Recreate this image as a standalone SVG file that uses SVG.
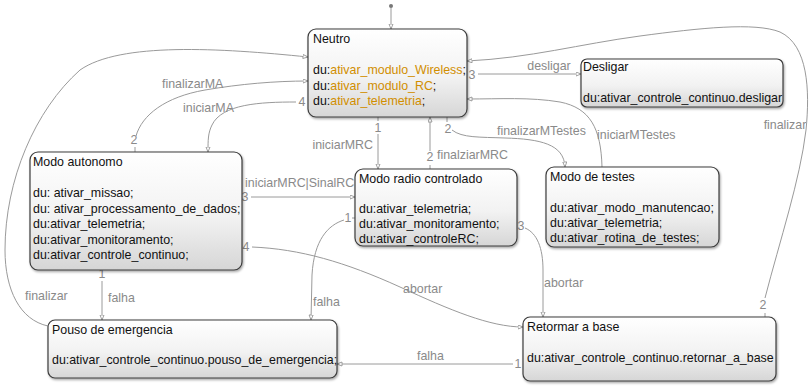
<svg xmlns="http://www.w3.org/2000/svg" width="809" height="386" viewBox="0 0 809 386">
<defs>
<linearGradient id="g" x1="0" y1="0" x2="0" y2="1">
<stop offset="0" stop-color="#ffffff"/>
<stop offset="0.55" stop-color="#f2f2f2"/>
<stop offset="1" stop-color="#d6d6d6"/>
</linearGradient>
<filter id="sh" x="-5%" y="-5%" width="112%" height="120%">
<feDropShadow dx="1" dy="1.5" stdDeviation="1.2" flood-color="#000" flood-opacity="0.35"/>
</filter>
<marker id="ar" markerUnits="userSpaceOnUse" markerWidth="7" markerHeight="6" refX="5.5" refY="2.5" orient="auto">
<path d="M0.5,0.5 L5.5,2.5 L0.5,4.5 z" fill="#fff" stroke="#8a8a8a" stroke-width="0.8"/>
</marker>
</defs>
<style>
.box{fill:url(#g);stroke:#3c3c3c;stroke-width:1.2;filter:url(#sh)}
.t{font-family:"Liberation Sans",Arial,Helvetica,sans-serif;font-size:12.4px;fill:#111}
.o{fill:#d18e00}
.c{fill:none;stroke:#9a9a9a;stroke-width:1}
.a{marker-end:url(#ar)}
.l{font-family:"Liberation Sans",Arial,Helvetica,sans-serif;font-size:12.4px;fill:#8a8a8a}
.n{font-family:"Liberation Sans",Arial,Helvetica,sans-serif;font-size:12.4px;fill:#8a8a8a;text-anchor:middle}
</style>
<rect width="809" height="386" fill="#fff"/>

<g id="connectors">
<circle cx="391" cy="6" r="2" fill="#777"/>
<path class="c a" d="M391,8 L391,29"/>

<!-- Neutro -> Desligar -->
<text class="n" x="472" y="79">3</text>
<path class="c a" d="M478,74 L581,74"/>
<text class="l" x="549" y="70" text-anchor="middle">desligar</text>

<!-- Retormar -> Neutro finalizar -->
<path class="c" d="M765,317 L765,313"/>
<text class="n" x="763" y="309">2</text>
<path class="c a" d="M765,298 C780,240 800,180 806,130 C810,90 808,45 780,32 C755,22 700,28 640,36 C580,44 530,58 467,61"/>
<text class="l" x="785" y="129" text-anchor="middle">finalizar</text>

<!-- Modo de testes -> Neutro iniciarMTestes -->
<path class="c a" d="M602,167 C601,128 590,108 560,102 C530,97 500,99 467,99"/>
<text class="l" x="597" y="139">iniciarMTestes</text>

<!-- Neutro -> Modo de testes finalizarMTestes -->
<path class="c" d="M447,117 L447,122"/>
<text class="n" x="448" y="133">2</text>
<path class="c a" d="M452,130 C462,138 480,137 505,138 C540,139 564,144 565,167"/>
<text class="l" x="497" y="135">finalizarMTestes</text>

<!-- Neutro -> MRC iniciarMRC -->
<path class="c" d="M378,117 L378,121"/>
<text class="n" x="378" y="132">1</text>
<path class="c a" d="M378,134 L378,169"/>
<text class="l" x="373" y="149" text-anchor="end">iniciarMRC</text>

<!-- MRC -> Neutro finalziarMRC -->
<path class="c" d="M430,169 L430,165"/>
<text class="n" x="430" y="161">2</text>
<path class="c a" d="M430,151 L430,117"/>
<text class="l" x="437" y="159">finalziarMRC</text>

<!-- MA -> Neutro finalizarMA -->
<path class="c" d="M135,152 L135,147"/>
<text class="n" x="134" y="144">2</text>
<path class="c a" d="M136,136 C142,115 165,97 205,90 C240,84 275,81 308,81"/>
<text class="l" x="162" y="88">finalizarMA</text>

<!-- Neutro -> MA iniciarMA -->
<text class="n" x="302" y="106">4</text>
<path class="c a" d="M296,102 C260,102 222,104 212,125 C208,133 208,140 208,152"/>
<text class="l" x="183" y="112">iniciarMA</text>

<!-- Pouso -> Neutro finalizar -->
<path class="c a" d="M48,326 C20,320 5,290 5,250 C5,180 35,110 80,70 C120,42 220,48 308,57"/>
<text class="l" x="25" y="300">finalizar</text>

<!-- MA -> MRC -->
<text class="n" x="245" y="201">3</text>
<path class="c a" d="M251,197 L355,197"/>
<text class="l" x="245" y="187">iniciarMRC|SinalRC</text>

<!-- MA -> Retormar abortar -->
<text class="n" x="246" y="251">4</text>
<path class="c a" d="M252,247 C300,249 345,262 400,287 C450,310 490,327 523,327"/>
<text class="l" x="403" y="293">abortar</text>

<!-- MA -> Pouso falha -->
<text class="n" x="102" y="278">1</text>
<path class="c a" d="M102,281 L102,320"/>
<text class="l" x="108" y="302">falha</text>

<!-- MRC -> Pouso falha -->
<path class="c" d="M355,218 L352,218"/>
<text class="n" x="348" y="222">1</text>
<path class="c a" d="M344,220 C328,225 314,240 312,275 L311,320"/>
<text class="l" x="313" y="306">falha</text>

<!-- MRC -> Retormar abortar -->
<text class="n" x="521" y="230">3</text>
<path class="c a" d="M525,228 C537,233 543,248 543,270 L543,317"/>
<text class="l" x="544" y="287">abortar</text>

<!-- Retormar -> Pouso falha -->
<text class="n" x="518" y="368">1</text>
<path class="c a" d="M513,364 L337,364"/>
<text class="l" x="417" y="360">falha</text>
</g>

<g id="neutro">
<rect class="box" x="308" y="29" width="159" height="88" rx="8"/>
<text class="t" x="313" y="43">Neutro</text>
<text class="t" x="313" y="74">du:<tspan class="o">ativar_modulo_Wireless</tspan>;</text>
<text class="t" x="313" y="89.5">du:<tspan class="o">ativar_modulo_RC</tspan>;</text>
<text class="t" x="313" y="105">du:<tspan class="o">ativar_telemetria</tspan>;</text>
</g>

<g id="desligar">
<rect class="box" x="581" y="59" width="202" height="48" rx="6"/>
<text class="t" x="583" y="71">Desligar</text>
<text class="t" x="583" y="102">du:ativar_controle_continuo.desligar</text>
</g>

<g id="modo-autonomo">
<rect class="box" x="30" y="152" width="212" height="118" rx="8"/>
<text class="t" x="33" y="166">Modo autonomo</text>
<text class="t" x="33" y="197">du: ativar_missao;</text>
<text class="t" x="33" y="212.5">du: ativar_processamento_de_dados;</text>
<text class="t" x="33" y="228">du:ativar_telemetria;</text>
<text class="t" x="33" y="243.5">du:ativar_monitoramento;</text>
<text class="t" x="33" y="259">du:ativar_controle_continuo;</text>
</g>

<g id="modo-radio-controlado">
<rect class="box" x="355" y="169" width="162" height="77" rx="8"/>
<text class="t" x="359" y="183">Modo radio controlado</text>
<text class="t" x="359" y="213">du:ativar_telemetria;</text>
<text class="t" x="359" y="228">du:ativar_monitoramento;</text>
<text class="t" x="359" y="243">du:ativar_controleRC;</text>
</g>

<g id="modo-de-testes">
<rect class="box" x="546" y="167" width="173" height="80" rx="8"/>
<text class="t" x="550" y="181">Modo de testes</text>
<text class="t" x="550" y="212">du:ativar_modo_manutencao;</text>
<text class="t" x="550" y="227">du:ativar_telemetria;</text>
<text class="t" x="550" y="242">du:ativar_rotina_de_testes;</text>
</g>

<g id="pouso-de-emergencia">
<rect class="box" x="48" y="320" width="289" height="58" rx="7"/>
<text class="t" x="52" y="334">Pouso de emergencia</text>
<text class="t" x="52" y="364">du:ativar_controle_continuo.pouso_de_emergencia;</text>
</g>

<g id="retormar-a-base">
<rect class="box" x="523" y="317" width="253" height="64" rx="7"/>
<text class="t" x="527" y="331">Retormar a base</text>
<text class="t" x="527" y="362">du:ativar_controle_continuo.retornar_a_base</text>
</g>
</svg>
